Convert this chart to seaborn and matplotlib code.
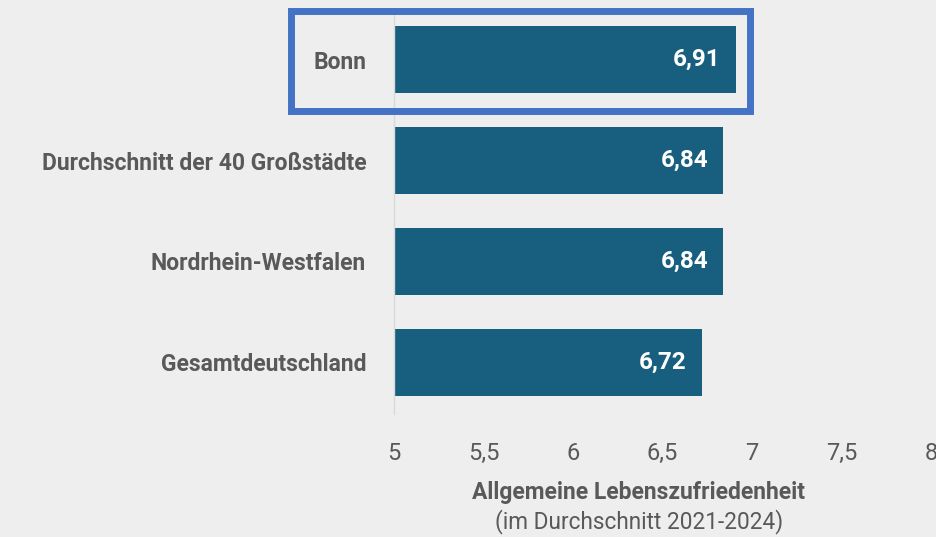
import matplotlib
matplotlib.use('Agg')
import matplotlib.pyplot as plt
import matplotlib.patches as patches
import seaborn as sns
import pandas as pd

# data
regions = ['Bonn', 'Durchschnitt der 40 Großstädte', 'Nordrhein-Westfalen', 'Gesamtdeutschland']
werte = [6.91, 6.84, 6.84, 6.72]
xticks = [5, 5.5, 6, 6.5, 7, 7.5, 8]
xticklabels = ['5', '5,5', '6', '6,5', '7', '7,5', '8']

df = pd.DataFrame({'Region': regions, 'Wert': werte})

bg = '#eeeeee'
bar_col = '#175e7f'
grau = '#595959'

sns.set_theme(style='white')
plt.rcParams['font.family'] = ['Roboto', 'DejaVu Sans']

fig = plt.figure(figsize=(9.37, 5.37), dpi=100, facecolor=bg)
ax = fig.add_axes([394/937, 1 - 414/537, (931 - 394)/937, (414 - 8)/537])
ax.set_facecolor(bg)

sns.barplot(data=df, x='Wert', y='Region', orient='h', color=bar_col,
            width=0.66, saturation=1, linewidth=0, ax=ax)

ax.set_xlim(5, 8)
ax.set_ylim(3.51, -0.51)
ax.set_xticks(xticks)
ax.set_xticklabels(xticklabels, fontsize=17, color=grau)
ax.set_yticks(range(len(regions)))
ax.set_yticklabels(regions, fontsize=16.5, color=grau, fontweight='bold')
ax.tick_params(axis='x', length=0, pad=20)
ax.tick_params(axis='y', length=0, pad=20)
ax.set_xlabel('')
ax.set_ylabel('')

for s in ['top', 'right', 'bottom']:
    ax.spines[s].set_visible(False)
ax.spines['left'].set_color('#d9d9d9')
ax.spines['left'].set_linewidth(1)

# Wertbeschriftungen in den Balken
for i, v in enumerate(werte):
    ax.annotate(f'{v:.2f}'.replace('.', ','), xy=(v, i), xytext=(-11, 0),
                textcoords='offset points', ha='right', va='center',
                color='white', fontsize=17.5, fontweight='bold')

# Achsentitel
fig.text(639/937, 1 - 492/537, 'Allgemeine Lebenszufriedenheit', ha='center', va='center',
         fontsize=16.5, fontweight='bold', color=grau)
fig.text(639/937, 1 - 522/537, '(im Durchschnitt 2021-2024)', ha='center', va='center',
         fontsize=16.3, color=grau)

# Hervorhebung Bonn
rect = patches.Rectangle((290.5/937, 1 - 111/537), (749.5 - 290.5)/937, (111 - 10.5)/537,
                         transform=fig.transFigure, fill=False, edgecolor='#4472c4',
                         linewidth=5, clip_on=False)
fig.patches.append(rect)

fig.savefig('out.png', dpi=100, facecolor=bg)
